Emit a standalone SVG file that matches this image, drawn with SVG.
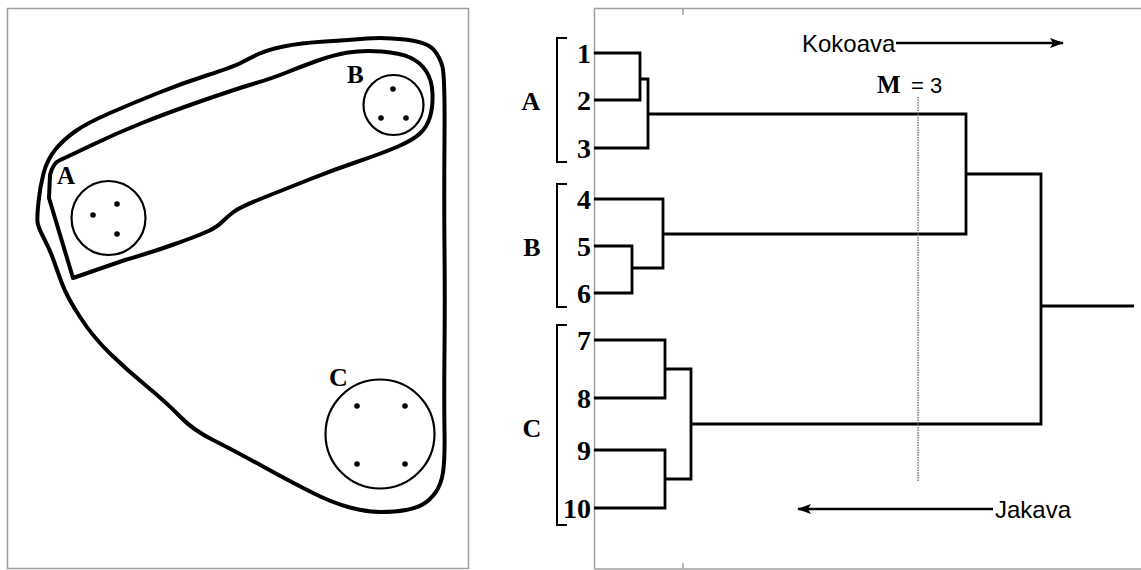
<svg xmlns="http://www.w3.org/2000/svg" width="1141" height="570" viewBox="0 0 1141 570">
<style>
.frame{fill:none;stroke:#a0a0a0;stroke-width:1.5}
.blob{fill:none;stroke:#000;stroke-width:4;stroke-linejoin:round;stroke-linecap:round}
.cl{fill:none;stroke:#000;stroke-width:2.2}
.dot{fill:#000}
.lbl{font-family:"Liberation Serif",serif;font-weight:bold;fill:#000}
.sans{font-family:"Liberation Sans",Arial,sans-serif;fill:#000}
.den{fill:none;stroke:#000;stroke-width:2.8;stroke-linejoin:miter}
.br{fill:none;stroke:#000;stroke-width:2}
.arr{fill:none;stroke:#000;stroke-width:2.5}
.dash{fill:none;stroke:#777;stroke-width:1.5;stroke-dasharray:1.5 1}
.num{font-size:28px;text-anchor:end}
.grp{font-size:26px;text-anchor:middle}
</style>
<defs>
<marker id="ah2" markerWidth="14" markerHeight="10" refX="13" refY="5" orient="auto" markerUnits="userSpaceOnUse" viewBox="0 0 14 10">
<path d="M0,0 L14,5 L0,10 L3,5 Z" fill="#000"/>
</marker>
</defs>
<rect width="1141" height="570" fill="#fff"/>

<g id="left-panel">
<rect class="frame" x="7.5" y="8.5" width="461" height="560"/>
<g id="outer-cluster">
<path class="blob" d="M37.5,222 Q37,217 38.5,202 Q40,187 43.5,173.5 Q47,160 55,150 Q63,140 75,131.5 Q87,123 110,113 Q133,103 158,93 Q183,83 208,75 Q233,67 241.5,62.5 Q250,58 258.5,54 Q267,50 283.5,46.5 Q300,43 325,41.5 Q350,40 366.5,38.5 Q383,37 405,39.5 Q427,42 433.5,49.5 Q440,57 442.5,67 Q445,77 444.5,138.5 Q444,200 444.5,250 Q445,300 444.5,350 Q444,400 444.5,430 Q445,460 443,472.5 Q441,485 435.5,492.5 Q430,500 423.5,504 Q417,508 406,510 Q395,512 381,512 Q367,512 350,507.5 Q333,503 313,493 Q293,483 263,466.5 Q233,450 213,440 Q193,430 180,416.5 Q167,403 147,386.5 Q127,370 110,353.5 Q93,337 80,317 Q67,297 62,283.5 Q57,270 53.5,260 Q50,250 44,238.5 Q38,227 37.5,222 Z"/>
</g>
<g id="inner-cluster">
<path class="blob" d="M50,175 Q53,163 60,160 Q67,157 92,145 Q117,133 142,123 Q167,113 200,101.5 Q233,90 253,84 Q273,78 286.5,72.5 Q300,67 316.5,61 Q333,55 348,52.5 Q363,50 381.5,51.5 Q400,53 410,57.5 Q420,62 426,71 Q432,80 432.5,93.5 Q433,107 430,117 Q427,127 420,133.5 Q413,140 398,146.5 Q383,153 358,161.5 Q333,170 308,180 Q283,190 261.5,198.5 Q240,207 233.5,212 Q227,217 222,222 Q217,227 208.5,231 Q200,235 175,244 Q150,253 125,260 L73,278 L49,198 Z"/>
</g>
<g id="cluster-A">
<circle class="cl" cx="108.5" cy="218" r="37"/>
<circle class="dot" cx="93" cy="215" r="2.8"/>
<circle class="dot" cx="117" cy="204" r="2.8"/>
<circle class="dot" cx="117" cy="234" r="2.8"/>
<text class="lbl" x="57" y="184" font-size="25">A</text>
</g>
<g id="cluster-B">
<circle class="cl" cx="393.5" cy="105" r="30"/>
<circle class="dot" cx="393" cy="89" r="2.8"/>
<circle class="dot" cx="381" cy="118" r="2.8"/>
<circle class="dot" cx="406" cy="118" r="2.8"/>
<text class="lbl" x="347" y="83" font-size="25">B</text>
</g>
<g id="cluster-C">
<circle class="cl" cx="380" cy="434" r="54.5" stroke-width="2.8"/>
<circle class="dot" cx="357" cy="406" r="2.8"/>
<circle class="dot" cx="405" cy="406" r="2.8"/>
<circle class="dot" cx="357" cy="464" r="2.8"/>
<circle class="dot" cx="405" cy="464" r="2.8"/>
<text class="lbl" x="329" y="386" font-size="26">C</text>
</g>
</g>

<g id="right-panel">
<path class="frame" d="M594.5,569 L594.5,8.5 L1141,8.5"/>
<path class="frame" d="M594.5,569 L1141,569"/>
<path class="frame" d="M683,9 L683,15 M683,563 L683,569"/>
</g>

<g id="labels">
<text class="lbl num" x="591" y="63">1</text>
<text class="lbl num" x="591" y="110">2</text>
<text class="lbl num" x="591" y="158">3</text>
<text class="lbl num" x="591" y="209">4</text>
<text class="lbl num" x="591" y="256">5</text>
<text class="lbl num" x="591" y="303">6</text>
<text class="lbl num" x="591" y="350">7</text>
<text class="lbl num" x="591" y="408">8</text>
<text class="lbl num" x="591" y="460">9</text>
<text class="lbl num" x="591" y="518">10</text>
<text class="lbl grp" x="531" y="110">A</text>
<text class="lbl grp" x="532" y="256">B</text>
<text class="lbl grp" x="532" y="437">C</text>
<path class="br" d="M567,38 L557,38 L557,162 L567,162"/>
<path class="br" d="M567,184 L557,184 L557,307 L567,307"/>
<path class="br" d="M567,325 L557,325 L557,525 L567,525"/>
</g>

<g id="connectors">
<path class="den" d="M594,53 L640,53 L640,100 L594,100"/>
<path class="den" d="M640,79 L648,79 L648,148 L594,148"/>
<path class="den" d="M594,199 L663,199 L663,268 L632,268"/>
<path class="den" d="M594,246 L632,246 L632,293 L594,293"/>
<path class="den" d="M594,340 L665,340 L665,398 L594,398"/>
<path class="den" d="M594,450 L665,450 L665,508 L594,508"/>
<path class="den" d="M665,369 L691,369 L691,479 L665,479"/>
<path class="den" d="M648,114 L966,114 L966,234 L663,234"/>
<path class="den" d="M966,174 L1041,174 L1041,424 L691,424"/>
<path class="den" d="M1041,306 L1134,306"/>
<path class="dash" d="M918,97 L918,482"/>
<path class="arr" d="M896,43 L1063,43" marker-end="url(#ah2)"/>
<path class="arr" d="M993,509 L798,509" marker-end="url(#ah2)"/>
</g>

<g id="annotations">
<text class="sans" font-size="24" x="802" y="52">Kokoava</text>
<text class="sans" font-size="24" x="995" y="518">Jakava</text>
<text class="lbl" font-size="25" x="877" y="93">M</text>
<text class="sans" font-size="22" x="911" y="93">= 3</text>
</g>
</svg>
